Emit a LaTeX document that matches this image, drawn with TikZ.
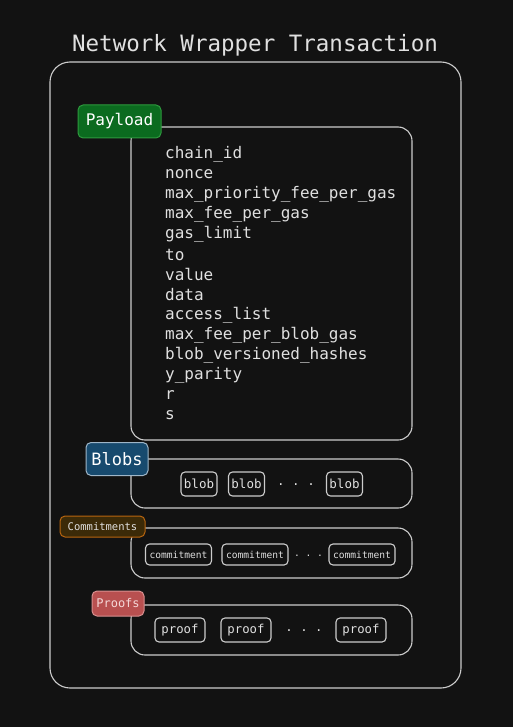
\documentclass[tikz,border=0pt]{standalone}
\usepackage{fontspec}
\setmonofont{DejaVu Sans Mono}
\usepackage{tikz}
\usetikzlibrary{positioning}
\definecolor{canvas}{HTML}{121212}
\definecolor{strokegray}{HTML}{CCCCCC}
\definecolor{textgray}{HTML}{E0E0E0}
\definecolor{payloadfill}{HTML}{0B6B1F}
\definecolor{payloadline}{HTML}{2E9A3E}
\definecolor{blobsfill}{HTML}{174A6E}
\definecolor{blobsline}{HTML}{9FB6C8}
\definecolor{commitfill}{HTML}{3B2A08}
\definecolor{commitline}{HTML}{B8650F}
\definecolor{proofsfill}{HTML}{B85050}
\definecolor{proofsline}{HTML}{D89090}
\tikzset{
  fsize/.style={font=\ttfamily\fontsize{#1}{#1}\selectfont},
  section/.style={draw=strokegray, line width=1.1pt, rounded corners=14pt},
  tag/.style={rounded corners=5pt, line width=1pt, inner sep=0pt, text=white},
  item/.style={draw=strokegray, line width=1.1pt, rounded corners=4pt, inner sep=0pt, text=textgray},
  field/.style={fsize=16, text=textgray, anchor=west, inner sep=0pt},
}
\begin{document}
\begin{tikzpicture}[x=1pt, y=-1pt]
\fill[canvas] (0,0) rectangle (513,727);
\useasboundingbox (0,0) rectangle (513,727);

% outer wrapper
\node[fsize=22.5, text=textgray] (title) at (255,45) {Network Wrapper Transaction};
\draw[strokegray, line width=1.1pt, rounded corners=20pt] (50,62) rectangle (461,688);

% payload
\draw[section] (131,127) rectangle (412,440);
\node[tag, fill=payloadfill, draw=payloadline, minimum width=83pt, minimum height=33pt, fsize=16] (payload) at (119.5,121.5) {Payload};
\foreach \f [count=\i from 0] in {chain\_id, nonce, max\_priority\_fee\_per\_gas, max\_fee\_per\_gas, gas\_limit, to, value, data, access\_list, max\_fee\_per\_blob\_gas, blob\_versioned\_hashes, y\_parity, r, s}
  \node[field] (field\i) at (165,154.5+20.05*\i) {\f};

% blobs
\draw[section] (131,459) rectangle (412,508);
\node[tag, fill=blobsfill, draw=blobsline, minimum width=62pt, minimum height=33pt, fsize=17] (blobs) at (117,459) {Blobs};
\node[item, minimum width=36pt, minimum height=24pt, fsize=12.5] (blob1) at (199,484) {blob};
\node[item, minimum width=36pt, minimum height=24pt, fsize=12.5] (blob2) at (246.5,484) {blob};
\node[fsize=12.5, text=textgray] (blobdots) at (296,485) {. . .};
\node[item, minimum width=36pt, minimum height=24pt, fsize=12.5] (blob3) at (344.5,484) {blob};

% commitments
\draw[section] (131,528) rectangle (412,578);
\node[tag, fill=commitfill, draw=commitline, minimum width=85pt, minimum height=21pt, fsize=10.5, text=textgray] (commitments) at (102.5,526.5) {Commitments};
\node[item, minimum width=66pt, minimum height=21pt, fsize=9.6] (commit1) at (178.5,554.5) {commitment};
\node[item, minimum width=66pt, minimum height=21pt, fsize=9.6] (commit2) at (255,554.5) {commitment};
\node[fsize=9.6, text=textgray] (commitdots) at (308.5,555.5) {. . .};
\node[item, minimum width=66pt, minimum height=21pt, fsize=9.6] (commit3) at (362,554.5) {commitment};

% proofs
\draw[section] (131,605) rectangle (412,655);
\node[tag, fill=proofsfill, draw=proofsline, minimum width=52pt, minimum height=25pt, fsize=12, text={rgb,255:red,245;green,215;blue,215}] (proofs) at (118,603.5) {Proofs};
\node[item, minimum width=50pt, minimum height=24pt, fsize=12.3] (proof1) at (180,630) {proof};
\node[item, minimum width=50pt, minimum height=24pt, fsize=12.3] (proof2) at (246,630) {proof};
\node[fsize=12.3, text=textgray] (proofdots) at (304,631) {. . .};
\node[item, minimum width=50pt, minimum height=24pt, fsize=12.3] (proof3) at (361,630) {proof};
\end{tikzpicture}
\end{document}
